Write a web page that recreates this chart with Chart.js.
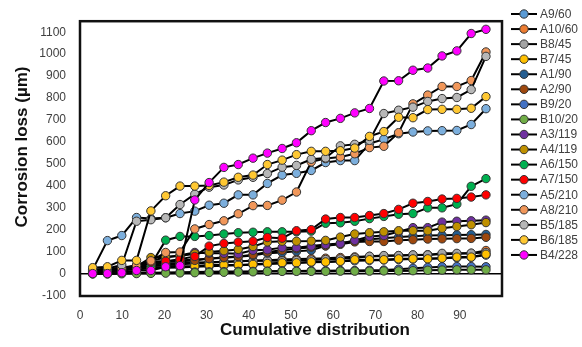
<!DOCTYPE html>
<html><head><meta charset="utf-8">
<script src="https://cdn.jsdelivr.net/npm/chart.js@4/dist/chart.umd.min.js"></script>
<style>html,body{margin:0;padding:0;background:#fff;}#wrap{width:582px;height:347px;}</style>
</head><body><div id="wrap"><canvas id="c" width="582" height="347"></canvas></div>
<script>
const xValues = [3.0, 6.5, 9.9, 13.4, 16.8, 20.3, 23.7, 27.2, 30.6, 34.1, 37.5, 41.0, 44.4, 47.9, 51.3, 54.8, 58.2, 61.7, 65.1, 68.6, 72.0, 75.5, 78.9, 82.4, 85.8, 89.3, 92.7, 96.2];
const xTicks = [0, 10, 20, 30, 40, 50, 60, 70, 80, 90];
const yTicks = [-100, 0, 100, 200, 300, 400, 500, 600, 700, 800, 900, 1000, 1100];

const seriesNames = ["A9/60","A10/60","B8/45","B7/45","A1/90","A2/90","B9/20","B10/20","A3/119","A4/119","A6/150","A7/150","A5/210","A8/210","B5/185","B6/185","B4/228"];
const seriesColors = ["#5B9BD5","#ED7D31","#A5A5A5","#FFC000","#255E91","#9E480E","#4472C4","#70AD47","#7030A0","#BF9000","#00B050","#FF0000","#7CAFDD","#F1975A","#B7B7B7","#FFC832","#FF00FF"];

const A9_60  = [10, 14, 18, 22, 25, 28, 30, 33, 35, 38, 40, 42, 45, 48, 50, 53, 55, 58, 60, 62, 64, 66, 68, 70, 72, 74, 76, 86];
const A10_60 = [12, 18, 24, 30, 35, 40, 44, 48, 52, 55, 58, 60, 63, 66, 68, 70, 72, 75, 78, 80, 82, 84, 86, 88, 90, 92, 94, 107];
const B8_45  = [15, 22, 30, 38, 44, 47, 50, 52, 54, 56, 58, 60, 62, 60, 62, 64, 66, 69, 74, 81, 84, 84, 87, 87, 94, 94, 95, 98];
const B7_45  = [20, 24, 26, 28, 30, 32, 34, 36, 41, 41, 41, 44, 48, 51, 51, 55, 55, 58, 65, 65, 65, 69, 69, 69, 72, 77, 77, 90];
const A1_90  = [8, 15, 25, 38, 55, 58, 62, 66, 70, 74, 78, 84, 95, 98, 103, 108, 128, 140, 150, 158, 163, 168, 172, 175, 176, 178, 179, 180];
const A2_90  = [6, 12, 22, 35, 50, 55, 58, 62, 70, 76, 80, 88, 100, 108, 115, 122, 128, 135, 146, 148, 148, 154, 156, 159, 160, 161, 162, 167];
const B9_20  = [2, 3, 4, 5, 6, 7, 8, 9, 10, 11, 12, 12, 13, 14, 14, 15, 15, 16, 16, 17, 18, 22, 26, 30, 33, 34, 34, 33];
const B10_20 = [0, 0, 1, 2, 3, 4, 5, 6, 7, 8, 9, 10, 12, 12, 12, 12, 12, 13, 13, 13, 14, 14, 15, 17, 18, 19, 19, 19];
const A3_119 = [5, 12, 20, 32, 60, 75, 85, 98, 95, 94, 92, 108, 110, 120, 120, 127, 134, 139, 153, 171, 175, 192, 211, 211, 236, 240, 242, 245];
const A4_119 = [6, 14, 22, 34, 75, 78, 82, 92, 100, 106, 112, 125, 146, 149, 149, 150, 153, 168, 182, 188, 192, 197, 197, 197, 208, 216, 224, 234];
const A6_150 = [5, 10, 18, 28, 42, 154, 171, 171, 175, 182, 188, 190, 192, 192, 192, 195, 231, 233, 240, 252, 262, 272, 275, 301, 301, 318, 399, 434];
const A7_150 = [3, 8, 15, 25, 55, 58, 67, 80, 127, 139, 145, 149, 166, 163, 197, 202, 250, 257, 257, 266, 275, 294, 322, 330, 341, 344, 350, 360];
const A5_210 = [20, 152, 175, 257, 252, 256, 275, 286, 313, 322, 360, 360, 412, 450, 458, 471, 507, 516, 516, 593, 613, 638, 646, 651, 652, 653, 680, 752];
const A8_210 = [10, 16, 25, 40, 60, 98, 100, 205, 225, 242, 274, 311, 312, 336, 373, 510, 525, 532, 547, 575, 581, 643, 774, 814, 853, 853, 880, 1010];
const B5_185 = [15, 25, 41, 240, 247, 256, 316, 363, 395, 405, 428, 440, 457, 486, 494, 522, 528, 583, 590, 608, 730, 745, 759, 785, 798, 803, 839, 990];
const B6_185 = [29, 33, 62, 62, 287, 356, 400, 400, 403, 418, 440, 450, 498, 518, 543, 558, 558, 561, 573, 626, 648, 713, 711, 748, 749, 749, 754, 807];
const B4_228 = [2, 2, 6, 16, 16, 33, 38, 337, 416, 485, 498, 527, 550, 571, 597, 652, 689, 708, 733, 753, 878, 879, 927, 937, 992, 1015, 1094, 1113];

const seriesValues = [A9_60, A10_60, B8_45, B7_45, A1_90, A2_90, B9_20, B10_20, A3_119, A4_119, A6_150, A7_150, A5_210, A8_210, B5_185, B6_185, B4_228];

const FONT = "'Liberation Sans', Arial, sans-serif";
const N = seriesNames.length;

const datasets = seriesValues.map((vals, i) => ({
  label: seriesNames[i],
  data: xValues.map((x, j) => ({ x: x, y: vals[j] })),
  borderColor: '#000',
  borderWidth: 2,
  pointRadius: 4.2,
  pointHoverRadius: 4.2,
  pointBackgroundColor: seriesColors[i],
  pointBorderColor: '#333',
  pointBorderWidth: 1,
  tension: 0,
  fill: false,
  order: N - 1 - i
}));

const decor = {
  id: 'decor',
  afterDraw(chart) {
    const ctx = chart.ctx, ca = chart.chartArea;
    ctx.save();
    ctx.lineWidth = 2.5;
    ctx.strokeStyle = '#111';
    ctx.strokeRect(ca.left, ca.top, ca.right - ca.left, ca.bottom - ca.top);
    ctx.fillStyle = '#111';
    ctx.font = "bold 17px " + FONT;
    ctx.textAlign = 'center';
    ctx.textBaseline = 'middle';
    ctx.fillText('Cumulative distribution', 315, 330);
    ctx.save();
    ctx.translate(22.5, 147);
    ctx.rotate(-Math.PI / 2);
    ctx.fillText('Corrosion loss (\u00b5m)', 0, 0);
    ctx.restore();
    // legend
    ctx.font = "12px " + FONT;
    ctx.textAlign = 'left';
    for (let i = 0; i < N; i++) {
      const y = 14 + 15.06 * i;
      ctx.beginPath();
      ctx.moveTo(511, y); ctx.lineTo(537, y);
      ctx.lineWidth = 2; ctx.strokeStyle = '#000'; ctx.stroke();
      ctx.beginPath();
      ctx.arc(524, y, 4.2, 0, Math.PI * 2);
      ctx.fillStyle = seriesColors[i]; ctx.fill();
      ctx.lineWidth = 1; ctx.strokeStyle = '#333'; ctx.stroke();
      ctx.fillStyle = '#404040';
      ctx.fillText(seriesNames[i], 540, y + 0.5);
    }
    ctx.restore();
  }
};

new Chart(document.getElementById('c'), {
  type: 'line',
  data: { datasets: datasets },
  options: {
    responsive: false,
    animation: false,
    devicePixelRatio: 1,
    layout: { padding: { top: 7, right: 80, left: 0, bottom: 0 } },
    plugins: { legend: { display: false }, tooltip: { enabled: false } },
    scales: {
      x: {
        type: 'linear', min: 0, max: 100,
        afterBuildTicks: s => { s.ticks = xTicks.map(v => ({ value: v })); },
        afterFit: s => { s.height = 51; },
        grid: { display: false, drawTicks: false },
        border: { display: false },
        ticks: { font: { size: 12, family: FONT }, color: '#404040', padding: 12, maxRotation: 0, autoSkip: false,
                 callback: v => String(v) }
      },
      y: {
        type: 'linear', min: -100, max: 1150,
        afterBuildTicks: s => { s.ticks = yTicks.map(v => ({ value: v })); },
        afterFit: s => { s.width = 80; },
        grid: {
          drawTicks: false,
          color: c => (c.tick && c.tick.value === 0) ? '#000' : 'rgba(0,0,0,0)',
          lineWidth: 1.5
        },
        border: { display: false },
        ticks: { font: { size: 12, family: FONT }, color: '#404040', padding: 14, autoSkip: false,
                 callback: v => String(v) }
      }
    }
  },
  plugins: [decor]
});
</script></body></html>
